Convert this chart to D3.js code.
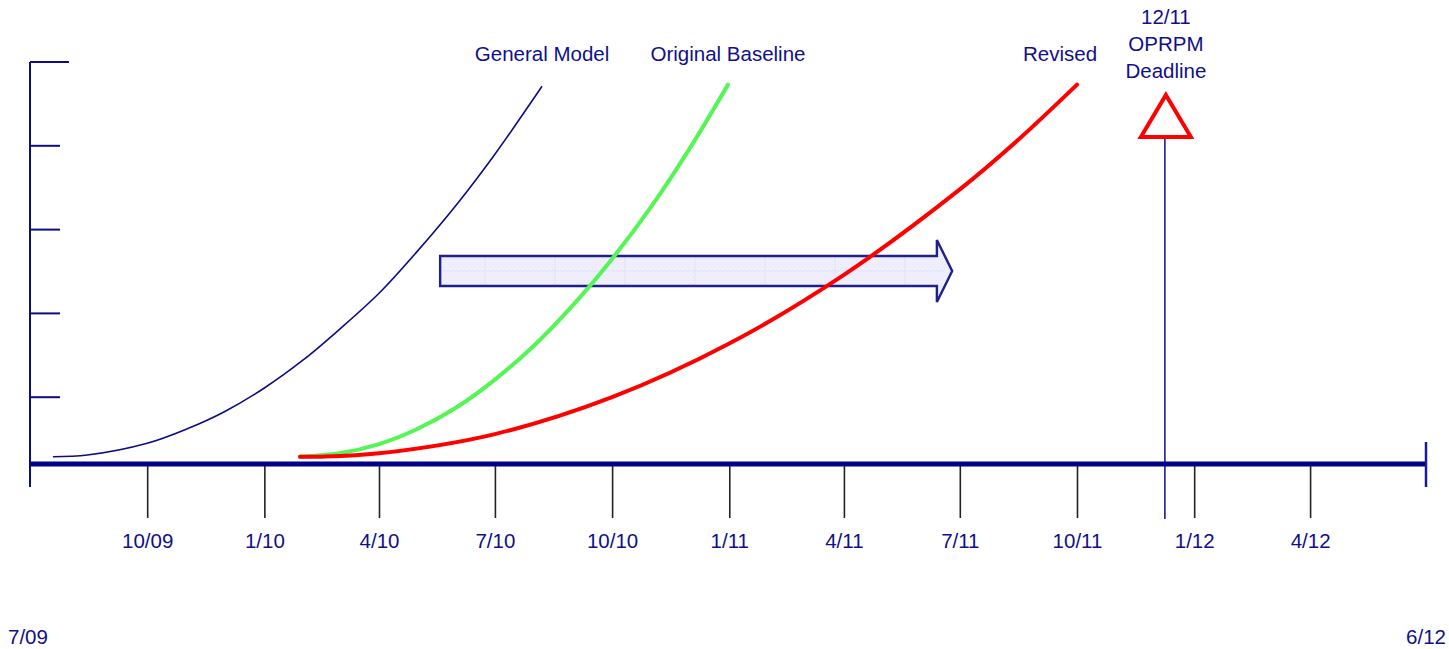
<!DOCTYPE html>
<html>
<head>
<meta charset="utf-8">
<script src="https://cdn.jsdelivr.net/npm/d3@7"></script>
<style>
  html, body { margin: 0; padding: 0; background: #ffffff; }
  svg { display: block; }
  text { font-family: "Liberation Sans", Arial, Helvetica, sans-serif; fill: #10108a; }
</style>
</head>
<body>
<svg id="chart" width="1449" height="649"></svg>
<script>
// ---- timeline data ----
const quarterTicks = ["2009-10-01", "2010-01-01", "2010-04-01", "2010-07-01", "2010-10-01",
  "2011-01-01", "2011-04-01", "2011-07-01", "2011-10-01", "2012-01-01", "2012-04-01"];
const quarterLabels = ["10/09", "1/10", "4/10", "7/10", "10/10", "1/11", "4/11", "7/11", "10/11", "1/12", "4/12"];
const timelineStart = "2009-07-01";
const timelineEnd = "2012-07-01";
const startLabel = "7/09";
const endLabel = "6/12";

// progress levels marked on the vertical axis
const levelTicks = [1, 2, 3, 4, 5];

// schedule curves: [date, progress level]
const generalModel = [
  ["2009-07-19", 0.29], ["2009-08-15", 0.31], ["2009-10-01", 0.45], ["2009-11-01", 0.62],
  ["2009-12-01", 0.83], ["2010-01-01", 1.11], ["2010-02-01", 1.45], ["2010-03-01", 1.81],
  ["2010-04-01", 2.24], ["2010-05-01", 2.74], ["2010-06-01", 3.30], ["2010-07-01", 3.90],
  ["2010-08-07", 4.71]
];
const originalBaseline = [
  ["2010-01-29", 0.29], ["2010-03-01", 0.33], ["2010-04-01", 0.44], ["2010-05-01", 0.62],
  ["2010-06-01", 0.88], ["2010-07-01", 1.21], ["2010-08-01", 1.62], ["2010-09-01", 2.11],
  ["2010-10-01", 2.65], ["2010-11-01", 3.28], ["2010-12-01", 3.97], ["2010-12-31", 4.73]
];
const revised = [
  ["2010-01-29", 0.29], ["2010-02-15", 0.29], ["2010-04-01", 0.33], ["2010-07-01", 0.56],
  ["2010-10-01", 1.00], ["2011-01-01", 1.64], ["2011-04-01", 2.46], ["2011-07-01", 3.48],
  ["2011-08-15", 4.06], ["2011-10-01", 4.73]
];

const deadlineDate = "2011-12-09";
const deadlineLines = ["12/11", "OPRPM", "Deadline"];

// schedule slip arrow span
const slipStart = "2010-05-19";
const slipHeadBase = "2011-06-13";
const slipTip = "2011-06-25";

// ---- drawing ----
const parse = d3.utcParse("%Y-%m-%d");
const svg = d3.select("#chart");
const NAVY = "#0c0c86";
const TEXT = "#10108a";
const FONT = 20.5;

const x = d3.scaleUtc()
  .domain([parse(timelineStart), parse(timelineEnd)])
  .range([30, 1426]);
const y = d3.scaleLinear().domain([0, 5]).range([481, 62]);
const axisY = 464;

// vertical axis with level ticks
svg.append("line")
  .attr("x1", 30).attr("x2", 30).attr("y1", y(5)).attr("y2", 487)
  .attr("stroke", NAVY).attr("stroke-width", 2);
svg.selectAll("line.level").data(levelTicks).join("line")
  .attr("class", "level")
  .attr("x1", 30).attr("x2", d => d === 5 ? 69 : 60)
  .attr("y1", d => y(d)).attr("y2", d => y(d))
  .attr("stroke", NAVY).attr("stroke-width", 2);

// quarter ticks below the timeline
const xAxis = d3.axisBottom(x)
  .tickValues(quarterTicks.map(parse))
  .tickSize(54)
  .tickPadding(15)
  .tickFormat((d, i) => quarterLabels[i]);
const gx = svg.append("g").attr("transform", `translate(0,${axisY})`).call(xAxis);
gx.select(".domain").remove();
gx.selectAll(".tick line").attr("stroke", "#222").attr("stroke-width", 1.6);
gx.selectAll(".tick text")
  .attr("font-size", FONT).attr("fill", TEXT)
  .attr("font-family", "Liberation Sans, Arial, sans-serif");

// deadline marker
const dx = x(parse(deadlineDate));
svg.append("line")
  .attr("x1", dx).attr("x2", dx).attr("y1", 137).attr("y2", 519)
  .attr("stroke", "#1b1b9a").attr("stroke-width", 1.6);
svg.append("path")
  .attr("d", `M${dx + 1},95 L${dx + 26},137 L${dx - 24},137 Z`)
  .attr("fill", "#ffffff").attr("stroke", "#ff0000").attr("stroke-width", 4)
  .attr("stroke-linejoin", "miter");
svg.selectAll("text.deadline").data(deadlineLines).join("text")
  .attr("class", "deadline")
  .attr("x", dx + 1).attr("y", (d, i) => 24 + i * 27)
  .attr("text-anchor", "middle").attr("font-size", FONT)
  .text(d => d);

// main timeline bar
svg.append("line")
  .attr("x1", 30).attr("x2", 1426).attr("y1", axisY).attr("y2", axisY)
  .attr("stroke", "#00008a").attr("stroke-width", 5);
svg.append("line")
  .attr("x1", 1426).attr("x2", 1426).attr("y1", 442).attr("y2", 487)
  .attr("stroke", "#1b1b9a").attr("stroke-width", 2.5);

// slip arrow with a faint fill pattern
const defs = svg.append("defs");
const pat = defs.append("pattern")
  .attr("id", "slipFill").attr("patternUnits", "userSpaceOnUse")
  .attr("width", 4).attr("height", 4);
pat.append("rect").attr("width", 4).attr("height", 4).attr("fill", "#efeffd");
pat.append("rect").attr("width", 1).attr("height", 1).attr("fill", "#e4e4fb");
pat.append("rect").attr("x", 2).attr("y", 2).attr("width", 1).attr("height", 1).attr("fill", "#e4e4fb");

const ax0 = x(parse(slipStart)), axh = x(parse(slipHeadBase)), axt = x(parse(slipTip));
const arrowPts = [[ax0, 256], [axh, 256], [axh, 240], [axt, 271], [axh, 302], [axh, 286], [ax0, 286]];
svg.append("path")
  .attr("d", d3.line()(arrowPts) + "Z")
  .attr("fill", "url(#slipFill)");
[485, 555, 625, 695, 765, 835, 905].forEach(gxp => {
  svg.append("line").attr("x1", gxp).attr("x2", gxp).attr("y1", 257).attr("y2", 285)
    .attr("stroke", "#dedefa").attr("stroke-width", 0.7);
});
svg.append("line").attr("x1", ax0 + 1).attr("x2", axt - 8).attr("y1", 271).attr("y2", 271)
  .attr("stroke", "#dedefa").attr("stroke-width", 0.7);
svg.append("path")
  .attr("d", d3.line()(arrowPts) + "Z")
  .attr("fill", "none").attr("stroke", "#1f1f8f").attr("stroke-width", 2.4)
  .attr("stroke-linejoin", "miter");

// schedule curves
const curve = d3.line()
  .x(d => x(parse(d[0])))
  .y(d => y(d[1]))
  .curve(d3.curveCatmullRom.alpha(0.5));

svg.append("path").datum(generalModel).attr("d", curve)
  .attr("fill", "none").attr("stroke", "#0c0c86").attr("stroke-width", 1.6);
svg.append("path").datum(originalBaseline).attr("d", curve)
  .attr("fill", "none").attr("stroke", "#55f555").attr("stroke-width", 4)
  .attr("stroke-linecap", "round");
svg.append("path").datum(revised).attr("d", curve)
  .attr("fill", "none").attr("stroke", "#ff0000").attr("stroke-width", 4)
  .attr("stroke-linecap", "round");

// curve labels
const curveLabels = [
  { text: "General Model", series: generalModel, shift: 0 },
  { text: "Original Baseline", series: originalBaseline, shift: 0 },
  { text: "Revised", series: revised, shift: -17 }
];
svg.selectAll("text.curve-label").data(curveLabels).join("text")
  .attr("class", "curve-label")
  .attr("x", d => x(parse(d.series[d.series.length - 1][0])) + d.shift)
  .attr("y", 61)
  .attr("text-anchor", "middle").attr("font-size", FONT)
  .text(d => d.text);

// timeline end dates
svg.append("text").attr("x", 8).attr("y", 644).attr("font-size", FONT).text(startLabel);
svg.append("text").attr("x", 1446).attr("y", 644).attr("text-anchor", "end")
  .attr("font-size", FONT).text(endLabel);
</script>
</body>
</html>
